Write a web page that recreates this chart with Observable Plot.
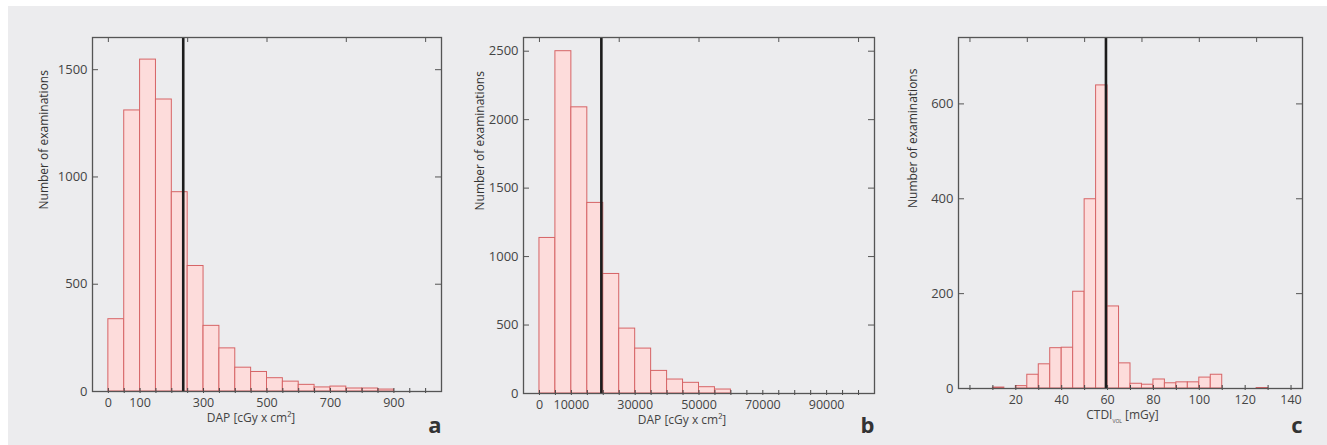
<!DOCTYPE html>
<html>
<head>
<meta charset="utf-8">
<script src="https://cdn.jsdelivr.net/npm/d3@7"></script>
<script src="https://cdn.jsdelivr.net/npm/@observablehq/plot@0.6"></script>
<style>
  html, body { margin: 0; padding: 0; background: #ffffff; width: 1327px; height: 445px; overflow: hidden; }
  #bg { position: absolute; left: 8px; top: 6px; right: 0; bottom: 0; background: #ececee; }
  .panel { position: absolute; }
  .panel svg { background: transparent; overflow: visible; }
</style>
</head>
<body>
<div id="bg"></div>
<div id="pa" class="panel"></div>
<div id="pb" class="panel"></div>
<div id="pc" class="panel"></div>
<script>
// ---------- Data ----------
// Panel a: DAP [cGy x cm²], bin width 50
const aBinStart = [0, 50, 100, 150, 200, 250, 300, 350, 400, 450, 500, 550, 600, 650, 700, 750, 800, 850];
const aCounts   = [337, 1310, 1547, 1361, 929, 585, 306, 201, 111, 91, 62, 46, 31, 19, 23, 14, 14, 9];
const aBinWidth = 50;
const aMarker = 236;
const aYTicks = [0, 500, 1000, 1500];
const aXLabels = [0, 100, 300, 500, 700, 900];
const aBottomTicks = [0, 50, 100, 150, 200, 250, 300, 350, 400, 450, 500, 550, 600, 650, 700, 750, 800, 850, 900, 950, 1000];
const aTopTicks = [0, 250, 500, 750, 1000];

// Panel b: DAP [cGy x cm²], bin width 5000
const bBinStart = [0, 5000, 10000, 15000, 20000, 25000, 30000, 35000, 40000, 45000, 50000, 55000];
const bCounts   = [1136, 2500, 2090, 1392, 873, 474, 328, 165, 102, 78, 46, 29];
const bBinWidth = 5000;
const bMarker = 19400;
const bYTicks = [0, 500, 1000, 1500, 2000, 2500];
const bXLabels = [0, 10000, 30000, 50000, 70000, 90000];
const bBottomTicks = [0, 5000, 10000, 15000, 20000, 25000, 30000, 35000, 40000, 45000, 50000, 55000, 60000, 65000, 70000, 75000, 80000, 85000, 90000, 95000, 100000];
const bTopTicks = [0, 25000, 50000, 75000, 100000];

// Panel c: CTDI_VOL [mGy], bin width 5
const cBinStart = [10, 15, 20, 25, 30, 35, 40, 45, 50, 55, 60, 65, 70, 75, 80, 85, 90, 95, 100, 105, 110, 115, 120, 125];
const cCounts   = [2, 0, 5, 29, 51, 85, 86, 204, 399, 639, 173, 53, 10, 8, 19, 11, 13, 13, 23, 29, 0, 0, 0, 1];
const cBinWidth = 5;
const cMarker = 59.3;
const cYTicks = [0, 200, 400, 600];
const cXLabels = [20, 40, 60, 80, 100, 120, 140];
const cBottomTicks = [0, 10, 20, 30, 40, 50, 60, 70, 80, 90, 100, 110, 120, 130, 140];
const cTopTicks = [0, 25, 50, 75, 100, 125];

const yTitle = "Number of examinations";

// ---------- Styling / layout ----------
const FONT = "'Open Sans', 'DejaVu Sans', sans-serif";
const ML = 70, MR = 10, MT = 10, MB = 52;

function panel(el, cfg) {
  const W = cfg.R - cfg.L, H = cfg.B - cfg.T;
  const bins = cfg.starts.map((s, i) => ({x1: s, x2: s + cfg.binWidth, count: cfg.counts[i]}));
  const svg = Plot.plot({
    width: ML + W + MR,
    height: MT + H + MB,
    marginLeft: ML, marginRight: MR, marginTop: MT, marginBottom: MB,
    style: {fontFamily: FONT, background: "transparent", overflow: "visible"},
    x: {domain: cfg.xDomain},
    y: {domain: cfg.yDomain},
    marks: [
      Plot.rectY(bins, {x1: "x1", x2: "x2", y: "count", fill: "#fddcdb", stroke: "#d66466", strokeWidth: 1}),
      Plot.ruleX([cfg.marker], {stroke: "#1c1c1c", strokeWidth: 2.6}),
      // inward ticks
      Plot.tickY(cfg.yTicks, {y: d => d, insetRight: W - 6, stroke: "#555", strokeWidth: 1}),
      Plot.tickY(cfg.yTicks, {y: d => d, insetLeft: W - 6, stroke: "#555", strokeWidth: 1}),
      Plot.tickX(cfg.topTicks, {x: d => d, insetBottom: H - 5, stroke: "#555", strokeWidth: 1}),
      Plot.tickX(cfg.bottomTicks, {x: d => d, insetTop: H - 3, insetBottom: -2, stroke: "#444", strokeWidth: 1}),
      Plot.frame({stroke: "#555", strokeWidth: 1.3}),
      Plot.axisY({anchor: "left", ticks: cfg.yTicks, tickSize: 0, tickPadding: 5, label: null, fontSize: 13, color: "#444", tickFormat: d => String(d)}),
      Plot.axisX({anchor: "bottom", ticks: cfg.xLabels, tickSize: 0, tickPadding: 7, label: null, fontSize: 12.5, color: "#444", tickFormat: d => String(d)}),
      Plot.text([cfg.xTitle], {frameAnchor: "bottom", dx: cfg.xTitleDx, dy: 27, lineAnchor: "middle", fontSize: 12, fill: "#444"}),
      Plot.text([yTitle], {frameAnchor: "left", dx: cfg.yTitleDx, dy: -5, rotate: -90, lineAnchor: "middle", fontSize: 12, fill: "#333"}),
      Plot.text([cfg.letter], {frameAnchor: "bottom-right", dy: cfg.letterDy, textAnchor: "end", lineAnchor: "bottom", fontSize: 22, fontWeight: "bold", fill: "#333"})
    ]
  });
  el.style.left = (cfg.L - ML) + "px";
  el.style.top = (cfg.T - MT) + "px";
  el.appendChild(svg);
  return svg;
}

panel(document.getElementById("pa"), {
  L: 92, R: 441, T: 37, B: 391,
  starts: aBinStart, counts: aCounts, binWidth: aBinWidth, marker: aMarker,
  xDomain: [-50, 1050], yDomain: [0, 1650],
  yTicks: aYTicks, xLabels: aXLabels, bottomTicks: aBottomTicks, topTicks: aTopTicks,
  xTitle: "DAP [cGy x cm²]", xTitleDx: -16, yTitleDx: -48, letter: "a", letterDy: 41
});
panel(document.getElementById("pb"), {
  L: 523, R: 874, T: 37, B: 393,
  starts: bBinStart, counts: bCounts, binWidth: bBinWidth, marker: bMarker,
  xDomain: [-5000, 105000], yDomain: [0, 2600],
  yTicks: bYTicks, xLabels: bXLabels, bottomTicks: bBottomTicks, topTicks: bTopTicks,
  xTitle: "DAP [cGy x cm²]", xTitleDx: -17, yTitleDx: -43, letter: "b", letterDy: 39
});
const svgC = panel(document.getElementById("pc"), {
  L: 958, R: 1302, T: 37, B: 388,
  starts: cBinStart, counts: cCounts, binWidth: cBinWidth, marker: cMarker,
  xDomain: [-5, 145], yDomain: [0, 740],
  yTicks: cYTicks, xLabels: cXLabels, bottomTicks: cBottomTicks, topTicks: cTopTicks,
  xTitle: "CTDI [mGy]", xTitleDx: -8, yTitleDx: -45, letter: "c", letterDy: 44
});

// subscript "VOL" in the CTDI axis title
d3.select(svgC).selectAll("text").filter(function() { return this.textContent === "CTDI [mGy]"; })
  .each(function() {
    const t = d3.select(this);
    t.text(null);
    t.append("tspan").text("CTDI");
    t.append("tspan").attr("font-size", 5).attr("dy", 4).text("VOL");
    t.append("tspan").attr("dy", -4).text(" [mGy]");
  });
</script>
</body>
</html>
